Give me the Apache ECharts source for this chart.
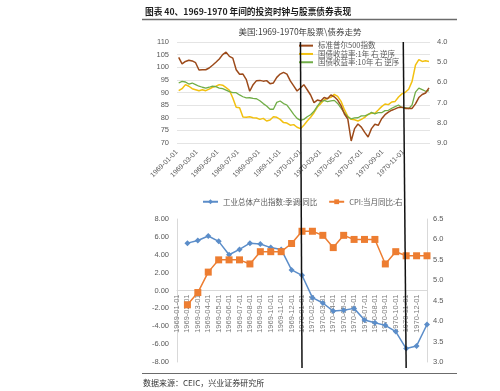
<!DOCTYPE html>
<html><head><meta charset="utf-8">
<script src="https://cdn.jsdelivr.net/npm/echarts@6/dist/echarts.min.js"></script>
<style>html,body{margin:0;padding:0;background:#fff}#c{width:500px;height:391px}</style>
</head><body><div id="c"></div>
<script>
const FONT = "'Liberation Sans','Noto Sans CJK SC',sans-serif";
const CJK = "'Noto Sans CJK SC','Liberation Sans',sans-serif";
const mainTitle = '图表 40、1969-1970 年间的投资时钟与股票债券表现';
const upperTitle = '美国:1969-1970年股票\\债券走势';
const sourceText = '数据来源：CEIC，兴业证券研究所';
const upperNames = ['标准普尔500指数', '国债收益率:1年 右 逆序', '国债收益率:10年 右 逆序'];
const lowerNames = ['工业总体产出指数:季调:同比', 'CPI:当月同比:右'];

const upperDates = ['1969-01-06','1969-01-16','1969-01-26','1969-02-05','1969-02-15','1969-02-25','1969-03-07','1969-03-17','1969-03-27','1969-04-06',
'1969-04-16','1969-04-26','1969-05-06','1969-05-16','1969-05-26','1969-06-05','1969-06-15','1969-06-25','1969-07-05','1969-07-15',
'1969-07-25','1969-08-04','1969-08-14','1969-08-24','1969-09-03','1969-09-13','1969-09-23','1969-10-03','1969-10-13','1969-10-23',
'1969-11-02','1969-11-12','1969-11-22','1969-12-02','1969-12-12','1969-12-22','1970-01-01','1970-01-11','1970-01-21','1970-01-31',
'1970-02-10','1970-02-20','1970-03-02','1970-03-12','1970-03-22','1970-04-01','1970-04-11','1970-04-21','1970-05-01','1970-05-11',
'1970-05-21','1970-05-31','1970-06-10','1970-06-20','1970-06-30','1970-07-10','1970-07-20','1970-07-30','1970-08-09','1970-08-19',
'1970-08-29','1970-09-08','1970-09-18','1970-09-28','1970-10-08','1970-10-18','1970-10-28','1970-11-07','1970-11-17','1970-11-27',
'1970-12-07','1970-12-17','1970-12-27','1971-01-06','1971-01-16'];
const spx = [103.9,101.3,102.3,102.8,102.5,101.8,98.9,99.0,99.0,99.7,
100.8,102.0,103.3,105.0,106.0,104.3,103.6,99.0,97.2,97.3,
95.1,90.5,93.1,94.7,94.8,94.5,94.7,93.5,93.8,96.0,
97.3,98.0,97.3,94.6,92.6,90.6,91.8,93.1,91.1,89.0,
86.0,87.0,86.6,88.0,87.5,89.0,88.3,87.0,84.8,81.5,
79.5,70.8,75.7,77.5,76.3,74.2,72.4,75.7,77.4,77.0,
79.6,81.2,82.2,83.0,83.5,84.1,84.2,83.7,83.8,83.7,
85.5,88.0,89.2,89.8,91.8];
const yield1y = [6.41,6.31,6.11,6.19,6.31,6.36,6.41,6.36,6.41,6.33,
6.24,6.19,6.11,6.14,6.26,6.39,6.77,7.23,7.25,7.71,
7.73,7.70,7.75,7.76,7.83,7.78,7.91,7.86,7.70,7.73,
7.83,7.99,8.01,8.12,8.09,8.22,8.29,8.12,7.91,7.73,
7.50,7.22,7.05,6.87,6.79,6.74,6.59,6.69,6.94,7.35,
7.68,7.83,7.85,7.91,7.83,7.73,7.58,7.53,7.53,7.37,
7.20,7.07,7.10,6.97,6.94,6.72,6.57,6.49,6.34,5.95,
5.15,4.87,4.96,4.93,4.96];
const yield10y = [6.03,5.95,5.98,6.08,6.03,6.11,6.19,6.24,6.28,6.24,
6.19,6.21,6.28,6.31,6.38,6.46,6.51,6.51,6.62,6.71,
6.77,6.76,6.79,6.81,6.91,7.05,7.17,7.33,7.33,6.99,
6.92,7.05,7.12,7.35,7.58,7.78,7.88,7.83,7.70,7.60,
7.43,7.17,6.95,6.89,6.95,6.92,6.89,7.04,7.27,7.51,
7.71,7.81,7.76,7.75,7.66,7.66,7.60,7.48,7.56,7.50,
7.50,7.40,7.38,7.28,7.20,7.12,7.25,7.25,7.30,7.12,
6.48,6.28,6.36,6.44,6.41];
const upperTickDates = ['1969-01-01','1969-03-01','1969-05-01','1969-07-01','1969-09-01','1969-11-01',
'1970-01-01','1970-03-01','1970-05-01','1970-07-01','1970-09-01','1970-11-01'];
const upperRange = ['1969-01-01', '1971-01-19'];

const lowerMonths = ['1969-01-01','1969-02-01','1969-03-01','1969-04-01','1969-05-01','1969-06-01','1969-07-01','1969-08-01',
'1969-09-01','1969-10-01','1969-11-01','1969-12-01','1970-01-01','1970-02-01','1970-03-01','1970-04-01',
'1970-05-01','1970-06-01','1970-07-01','1970-08-01','1970-09-01','1970-10-01','1970-11-01','1970-12-01'];
const ipYoY = [5.3,5.6,6.1,5.5,4.0,4.6,5.3,5.2,4.8,4.6,2.3,1.7,-0.8,-1.4,-2.3,-2.2,-2.0,-3.3,-3.6,-3.9,-4.6,-6.5,-6.2,-3.8];
const cpiYoY = [4.4,4.7,5.2,5.5,5.5,5.5,5.4,5.7,5.7,5.7,5.9,6.2,6.2,6.1,5.8,6.1,6.0,6.0,6.0,5.4,5.7,5.6,5.6,5.6];
const markerDates = ['1970-01-01', '1970-11-01'];

const C_SPX = '#9C4A1A', C_1Y = '#F2C010', C_10Y = '#70AD47', C_IP = '#5B8DC9', C_CPI = '#ED7D31';
const LBL = '#595959', AX = '#D9D9D9';

const ts = s => echarts.number.parseDate(s).getTime();
function fmtDate(v) {
  const d = new Date(v);
  const p = n => (n < 10 ? '0' : '') + n;
  return d.getFullYear() + '-' + p(d.getMonth() + 1) + '-' + p(d.getDate());
}

const chart = echarts.init(document.getElementById('c'), null, {renderer: 'canvas'});
const lowerCats = lowerMonths.concat(['']);
const option = {
  animation: false,
  backgroundColor: '#fff',
  textStyle: {fontFamily: FONT},
  grid: [
    {left: 177, top: 42, width: 253, height: 101, outerBoundsMode: 'none', containLabel: false},
    {left: 177, top: 219, width: 250, height: 143, outerBoundsMode: 'none', containLabel: false}
  ],
  legend: [
    {data: upperNames.map(n => ({name: n, icon: 'rect'})), orient: 'vertical', left: 299, top: 41.5, padding: 0,
     itemWidth: 14, itemHeight: 2, itemGap: 0, textStyle: {fontSize: 7.5, color: LBL, fontFamily: CJK, lineHeight: 8.3}},
    {data: lowerNames, orient: 'horizontal', left: 202, top: 198, padding: 0, itemWidth: 15, itemHeight: 6, itemGap: 11,
     textStyle: {fontSize: 7.5, color: LBL, fontFamily: CJK}}
  ],
  xAxis: [
    {type: 'value', gridIndex: 0, min: ts(upperRange[0]), max: ts(upperRange[1]),
     axisLine: {show: false}, axisTick: {show: false}, splitLine: {show: false},
     axisLabel: {customValues: upperTickDates.map(ts), formatter: fmtDate,
       rotate: 45, fontSize: 7, color: LBL, margin: 8, hideOverlap: false}},
    {type: 'category', gridIndex: 1, data: lowerCats, boundaryGap: false, position: 'bottom', offset: 0,
     axisLine: {show: true, onZero: false, lineStyle: {color: AX}}, axisTick: {show: false},
     axisLabel: {interval: 0, rotate: 90, fontSize: 7.5, color: '#7A7A7A', margin: 4}}
  ],
  yAxis: [
    {type: 'value', gridIndex: 0, min: 70, max: 110, interval: 5, axisLine: {show: false}, axisTick: {show: false},
     splitLine: {lineStyle: {color: '#E4E4E4'}}, axisLabel: {fontSize: 7.5, color: LBL, margin: 8}},
    {type: 'value', gridIndex: 0, min: 4, max: 9, interval: 1, inverse: true, position: 'right',
     axisLine: {show: false}, axisTick: {show: false}, splitLine: {show: false},
     axisLabel: {fontSize: 7.5, color: LBL, margin: 7, formatter: v => v.toFixed(1)}},
    {type: 'value', gridIndex: 1, min: -8, max: 8, interval: 2, axisLine: {show: true, onZero: false, lineStyle: {color: AX}},
     axisTick: {show: false}, splitLine: {show: false}, axisLabel: {fontSize: 7.5, color: LBL, margin: 8, formatter: v => v.toFixed(2)}},
    {type: 'value', gridIndex: 1, min: 3, max: 6.5, interval: 0.5, position: 'right', axisLine: {show: true, onZero: false, lineStyle: {color: AX}},
     axisTick: {show: false}, splitLine: {show: false}, axisLabel: {fontSize: 7.5, color: LBL, margin: 6, formatter: v => v.toFixed(1)}}
  ],
  series: [
    {name: upperNames[0], type: 'line', xAxisIndex: 0, yAxisIndex: 0, showSymbol: false, symbol: 'none',
     data: upperDates.map((d, i) => [ts(d), spx[i]]), lineStyle: {color: C_SPX, width: 1.5}, itemStyle: {color: C_SPX}, z: 4},
    {name: upperNames[1], type: 'line', xAxisIndex: 0, yAxisIndex: 1, showSymbol: false, symbol: 'none',
     data: upperDates.map((d, i) => [ts(d), yield1y[i]]), lineStyle: {color: C_1Y, width: 1.5}, itemStyle: {color: C_1Y}, z: 2},
    {name: upperNames[2], type: 'line', xAxisIndex: 0, yAxisIndex: 1, showSymbol: false, symbol: 'none',
     data: upperDates.map((d, i) => [ts(d), yield10y[i]]), lineStyle: {color: C_10Y, width: 1.3}, itemStyle: {color: C_10Y}, z: 3},
    {name: lowerNames[0], type: 'line', xAxisIndex: 1, yAxisIndex: 2, symbol: 'diamond', symbolSize: 6,
     data: ['-'].concat(ipYoY), lineStyle: {color: C_IP, width: 1.5}, itemStyle: {color: C_IP}},
    {name: lowerNames[1], type: 'line', xAxisIndex: 1, yAxisIndex: 3, symbol: 'rect', symbolSize: 7,
     data: ['-'].concat(cpiYoY), lineStyle: {color: C_CPI, width: 1.5}, itemStyle: {color: C_CPI}}
  ]
};
chart.setOption(option);

// place the lower category axis on the zero line of the left value axis
const yZero = chart.convertToPixel({yAxisIndex: 2}, 0);
const yGridBottom = chart.convertToPixel({yAxisIndex: 2}, -8);
chart.setOption({xAxis: [{}, {offset: yZero - yGridBottom}]});

const yTop = chart.convertToPixel({yAxisIndex: 0}, 110);
const yBot = yGridBottom + 6;
const graphics = [
  {type: 'text', style: {text: mainTitle, x: 145, y: 12, textVerticalAlign: 'middle', fill: '#1E1E1E', font: "bold 8.7px " + CJK}},
  {type: 'line', shape: {x1: 142, y1: 19.5, x2: 457, y2: 19.5}, style: {stroke: '#6B6B6B', lineWidth: 1.5}},
  {type: 'text', style: {text: upperTitle, x: 300, y: 32, textAlign: 'center', textVerticalAlign: 'middle', fill: '#404040', font: "8.5px " + CJK}},
  {type: 'line', shape: {x1: 142, y1: 373.5, x2: 457, y2: 373.5}, style: {stroke: '#6B6B6B', lineWidth: 1}},
  {type: 'text', style: {text: sourceText, x: 143, y: 383, textVerticalAlign: 'middle', fill: '#333', font: "8px " + CJK}}
];
markerDates.forEach(d => {
  const xa = chart.convertToPixel({xAxisIndex: 0}, ts(d));
  const xb = chart.convertToPixel({xAxisIndex: 1}, d);
  graphics.push({type: 'line', z: 100, shape: {x1: xa, y1: yTop, x2: xb, y2: yBot}, style: {stroke: '#111', lineWidth: 1.5}});
});
chart.setOption({graphic: graphics});
</script></body></html>
